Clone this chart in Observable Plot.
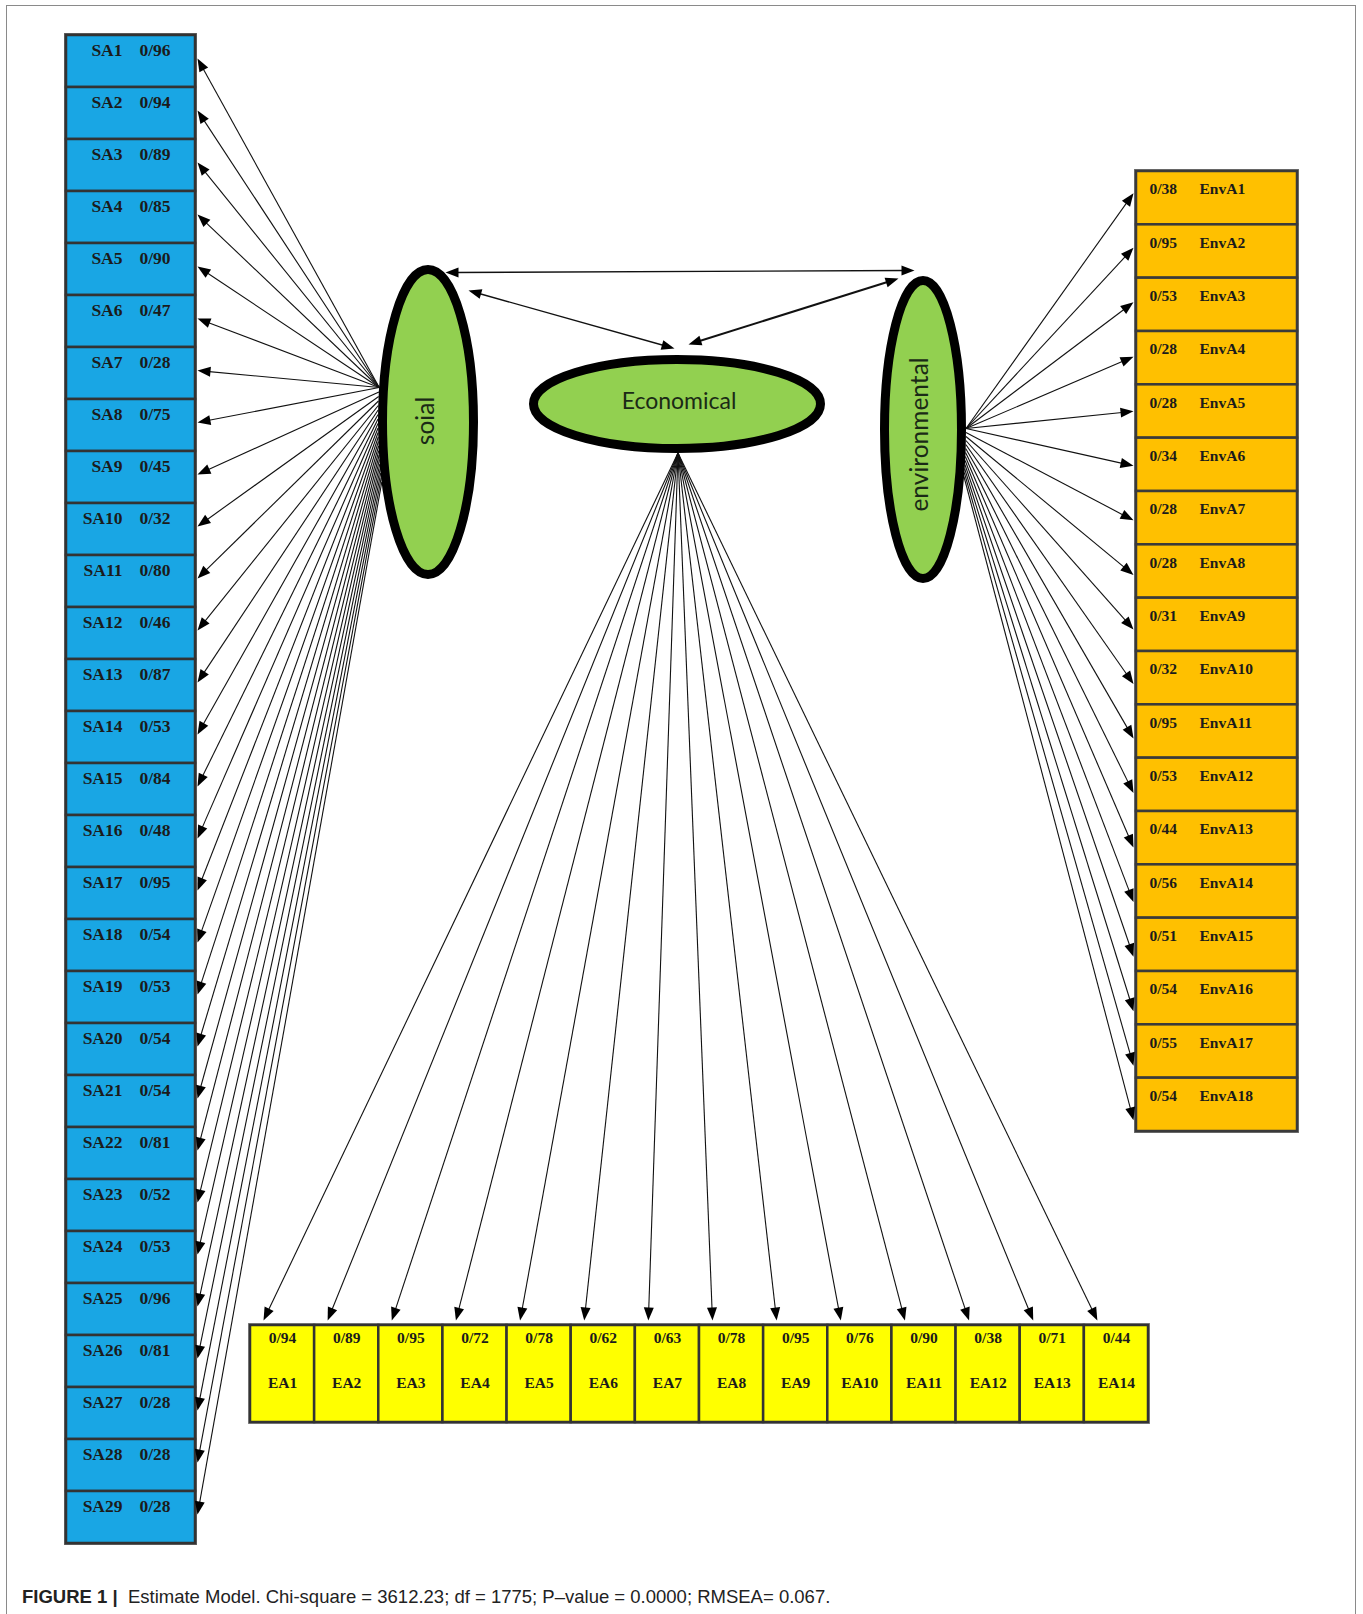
<!DOCTYPE html>
<html><head><meta charset="utf-8">
<script src="https://cdn.jsdelivr.net/npm/d3@7"></script>
<script src="https://cdn.jsdelivr.net/npm/@observablehq/plot@0.6"></script>
<style>
html,body{margin:0;padding:0;background:#fff;}
#page{position:relative;width:1363px;height:1614px;overflow:hidden;background:#fff;}
#frame{position:absolute;left:6px;top:5px;width:1350px;height:1700px;border:1.5px solid #8a8a8a;box-sizing:border-box;}
#chart{position:absolute;left:0;top:0;}
#caption{position:absolute;left:22px;top:1586px;font-family:"Liberation Sans",Arial,sans-serif;font-size:18.5px;color:#222;white-space:nowrap;}
#caption b{font-weight:bold;}
</style></head>
<body><div id="page"><div id="frame"></div><div id="chart"></div><div id="caption"><b>FIGURE 1 |</b>&nbsp; Estimate Model. Chi-square = 3612.23; df = 1775; P–value = 0.0000; RMSEA= 0.067.</div></div>
<script>
// ---------------- data ----------------
const saNames = ["SA1","SA2","SA3","SA4","SA5","SA6","SA7","SA8","SA9","SA10","SA11","SA12","SA13","SA14","SA15","SA16","SA17","SA18","SA19","SA20","SA21","SA22","SA23","SA24","SA25","SA26","SA27","SA28","SA29"];
const saValues = ["0/96","0/94","0/89","0/85","0/90","0/47","0/28","0/75","0/45","0/32","0/80","0/46","0/87","0/53","0/84","0/48","0/95","0/54","0/53","0/54","0/54","0/81","0/52","0/53","0/96","0/81","0/28","0/28","0/28"];
const envNames = ["EnvA1","EnvA2","EnvA3","EnvA4","EnvA5","EnvA6","EnvA7","EnvA8","EnvA9","EnvA10","EnvA11","EnvA12","EnvA13","EnvA14","EnvA15","EnvA16","EnvA17","EnvA18"];
const envValues = ["0/38","0/95","0/53","0/28","0/28","0/34","0/28","0/28","0/31","0/32","0/95","0/53","0/44","0/56","0/51","0/54","0/55","0/54"];
const eaNames = ["EA1","EA2","EA3","EA4","EA5","EA6","EA7","EA8","EA9","EA10","EA11","EA12","EA13","EA14"];
const eaValues = ["0/94","0/89","0/95","0/72","0/78","0/62","0/63","0/78","0/95","0/76","0/90","0/38","0/71","0/44"];
const factorNames = ["soial","Economical","environmental"];
const correlations = [["soial","environmental"],["soial","Economical"],["environmental","Economical"]];

// ---------------- layout ----------------
const W = 1363, H = 1575;
const colors = {sa:"#19A6E4", env:"#FFC000", ea:"#FFFF00", factor:"#92D050"};
const ySA = Plot.scale({y:{type:"band", domain: saNames, range:[35,1543], padding:0}});
const yEnv = Plot.scale({y:{type:"band", domain: envNames, range:[171,1131], padding:0}});
const xEA = Plot.scale({x:{type:"band", domain: eaNames, range:[250,1148], padding:0}});
const saX = [66,195], envX = [1136,1297], eaY = [1325,1422];

const factors = {
  soial:{cx:427.5, cy:421.5, rx:45.5, ry:152.5, rot:-90, fs:24.5, dx:-2, dy:-1},
  Economical:{cx:676.5, cy:403.5, rx:143.5, ry:44.5, rot:0, fs:23, dx:2, dy:-2},
  environmental:{cx:922.5, cy:429, rx:38.5, ry:149, rot:-90, fs:24.5, dx:-3, dy:5}
};
const SW = 9;

const sa = saNames.map((n,i)=>({name:n, value:saValues[i], y1:ySA.apply(n), y2:ySA.apply(n)+ySA.bandwidth}));
const env = envNames.map((n,i)=>({name:n, value:envValues[i], y1:yEnv.apply(n), y2:yEnv.apply(n)+yEnv.bandwidth}));
const ea = eaNames.map((n,i)=>({name:n, value:eaValues[i], x1:xEA.apply(n), x2:xEA.apply(n)+xEA.bandwidth}));

function edgeX(f, y, side){
  const F = factors[f], rx = F.rx+SW/2, ry = F.ry+SW/2;
  const t = Math.max(0, 1 - ((y-F.cy)/ry)**2);
  return F.cx + side*rx*Math.sqrt(t);
}
// loading arrows (from factor to indicator)
const arrows = [];
sa.forEach((d,i)=>{
  const oy = i < 8 ? 387 : 387 + (i-7)*4.5;
  arrows.push({x1:edgeX("soial", oy, -1), y1:oy, x2:saX[1]+2, y2:(d.y1+d.y2)/2-3, w:1.1});
});
env.forEach((d,i)=>{
  const oy = i < 6 ? 428 : 428 + (i-5)*4;
  arrows.push({x1:edgeX("environmental", oy, 1), y1:oy, x2:envX[0]-3, y2:(d.y1+d.y2)/2 - 5 + i*1.2, w:1.1});
});
ea.forEach((d,i)=>{
  const F = factors.Economical;
  arrows.push({x1:F.cx+1, y1:F.cy+F.ry+SW/2, x2:d.x1+13, y2:eaY[0]-5, w:1.1});
});
// correlation arrows (double headed)
const anchors = {
  "soial>environmental":[445,272], "environmental>soial":[914,270],
  "soial>Economical":[468,290], "Economical>soial":[674,348],
  "environmental>Economical":[898,278], "Economical>environmental":[688,344]
};
correlations.forEach(([a,b],k)=>{
  const A = anchors[a+">"+b], B = anchors[b+">"+a];
  arrows.push({x1:A[0], y1:A[1], x2:B[0], y2:B[1], w:k===2?2:1.4, both:true});
});

const HL = 13, HW = 5;
const head = {draw(ctx){ ctx.moveTo(0,0); ctx.lineTo(-HW, HL); ctx.lineTo(HW, HL); ctx.closePath(); }};
const heads = [];
const shafts = arrows.map(a=>{
  const dx = a.x2-a.x1, dy = a.y2-a.y1, L = Math.hypot(dx,dy), ux = dx/L, uy = dy/L;
  const ang = Math.atan2(dx,-dy)*180/Math.PI;
  heads.push({x:a.x2, y:a.y2, a:ang});
  const s = {x1:a.x1, y1:a.y1, x2:a.x2-ux*HL*0.7, y2:a.y2-uy*HL*0.7, w:a.w};
  if (a.both){
    heads.push({x:a.x1, y:a.y1, a:ang+180});
    s.x1 = a.x1+ux*HL*0.7; s.y1 = a.y1+uy*HL*0.7;
  }
  return s;
});

function ellipseSymbol(rx, ry){
  const k = 0.5522847;
  return {draw(c){
    c.moveTo(rx,0);
    c.bezierCurveTo(rx, ry*k, rx*k, ry, 0, ry);
    c.bezierCurveTo(-rx*k, ry, -rx, ry*k, -rx, 0);
    c.bezierCurveTo(-rx, -ry*k, -rx*k, -ry, 0, -ry);
    c.bezierCurveTo(rx*k, -ry, rx, -ry*k, rx, 0);
    c.closePath();
  }};
}

const serif = "'Liberation Serif','Times New Roman',serif";
const txt = "#1b1b1b";
const marks = [
  // SA column
  Plot.rect([0], {x1:saX[0]-2, x2:saX[1]+2, y1:33, y2:1545, fill:"#666"}),
  Plot.rect(sa, {x1:saX[0], x2:saX[1], y1:"y1", y2:"y2", fill:colors.sa, stroke:"#333", strokeWidth:2.5}),
  Plot.text(sa, {x:122, y:d=>d.y1+14.5, text:"name", textAnchor:"end", fontFamily:serif, fontWeight:"bold", fontSize:17.5, fill:txt}),
  Plot.text(sa, {x:139, y:d=>d.y1+14.5, text:"value", textAnchor:"start", fontFamily:serif, fontWeight:"bold", fontSize:17.5, fill:txt}),
  // Env column
  Plot.rect([0], {x1:envX[0]-2, x2:envX[1]+2, y1:169, y2:1133, fill:"#777"}),
  Plot.rect(env, {x1:envX[0], x2:envX[1], y1:"y1", y2:"y2", fill:colors.env, stroke:"#3a3a3a", strokeWidth:2.5}),
  Plot.text(env, {x:1149, y:d=>d.y1+18, text:"value", textAnchor:"start", fontFamily:serif, fontWeight:"bold", fontSize:15.5, fill:txt}),
  Plot.text(env, {x:1199, y:d=>d.y1+18, text:"name", textAnchor:"start", fontFamily:serif, fontWeight:"bold", fontSize:15.5, fill:txt}),
  // EA row
  Plot.rect([0], {x1:248, x2:1150, y1:eaY[0]-2, y2:eaY[1]+2, fill:"#888"}),
  Plot.rect(ea, {x1:"x1", x2:"x2", y1:eaY[0], y2:eaY[1], fill:colors.ea, stroke:"#333", strokeWidth:2.5}),
  Plot.text(ea, {x:d=>(d.x1+d.x2)/2, y:eaY[0]+13, text:"value", fontFamily:serif, fontWeight:"bold", fontSize:15.5, fill:txt}),
  Plot.text(ea, {x:d=>(d.x1+d.x2)/2, y:eaY[0]+58, text:"name", fontFamily:serif, fontWeight:"bold", fontSize:15.5, fill:txt}),
  // arrows
  Plot.link(shafts, {x1:"x1", y1:"y1", x2:"x2", y2:"y2", stroke:"#111", strokeWidth:d=>d.w}),
  Plot.dot(heads, {x:"x", y:"y", rotate:"a", symbol:head, fill:"#000", stroke:"none", r:5}),
  // factors
  ...factorNames.map(f=>Plot.dot([f], {x:factors[f].cx, y:factors[f].cy, symbol:ellipseSymbol(factors[f].rx, factors[f].ry), fill:colors.factor, stroke:"#000", strokeWidth:SW, r:5})),
  Plot.text(factorNames, {x:f=>factors[f].cx + factors[f].dx, y:f=>factors[f].cy + factors[f].dy, text:d=>d, rotate:f=>factors[f].rot, fontFamily:"Lato, 'Open Sans', sans-serif", fontSize:f=>factors[f].fs, fill:"#1a2a16"})
];

const svg = Plot.plot({
  width: W, height: H, margin: 0,
  x:{type:"identity", axis:null}, y:{type:"identity", axis:null},
  style:{background:"transparent"},
  marks
});
document.getElementById("chart").appendChild(svg);
</script>
</body></html>
